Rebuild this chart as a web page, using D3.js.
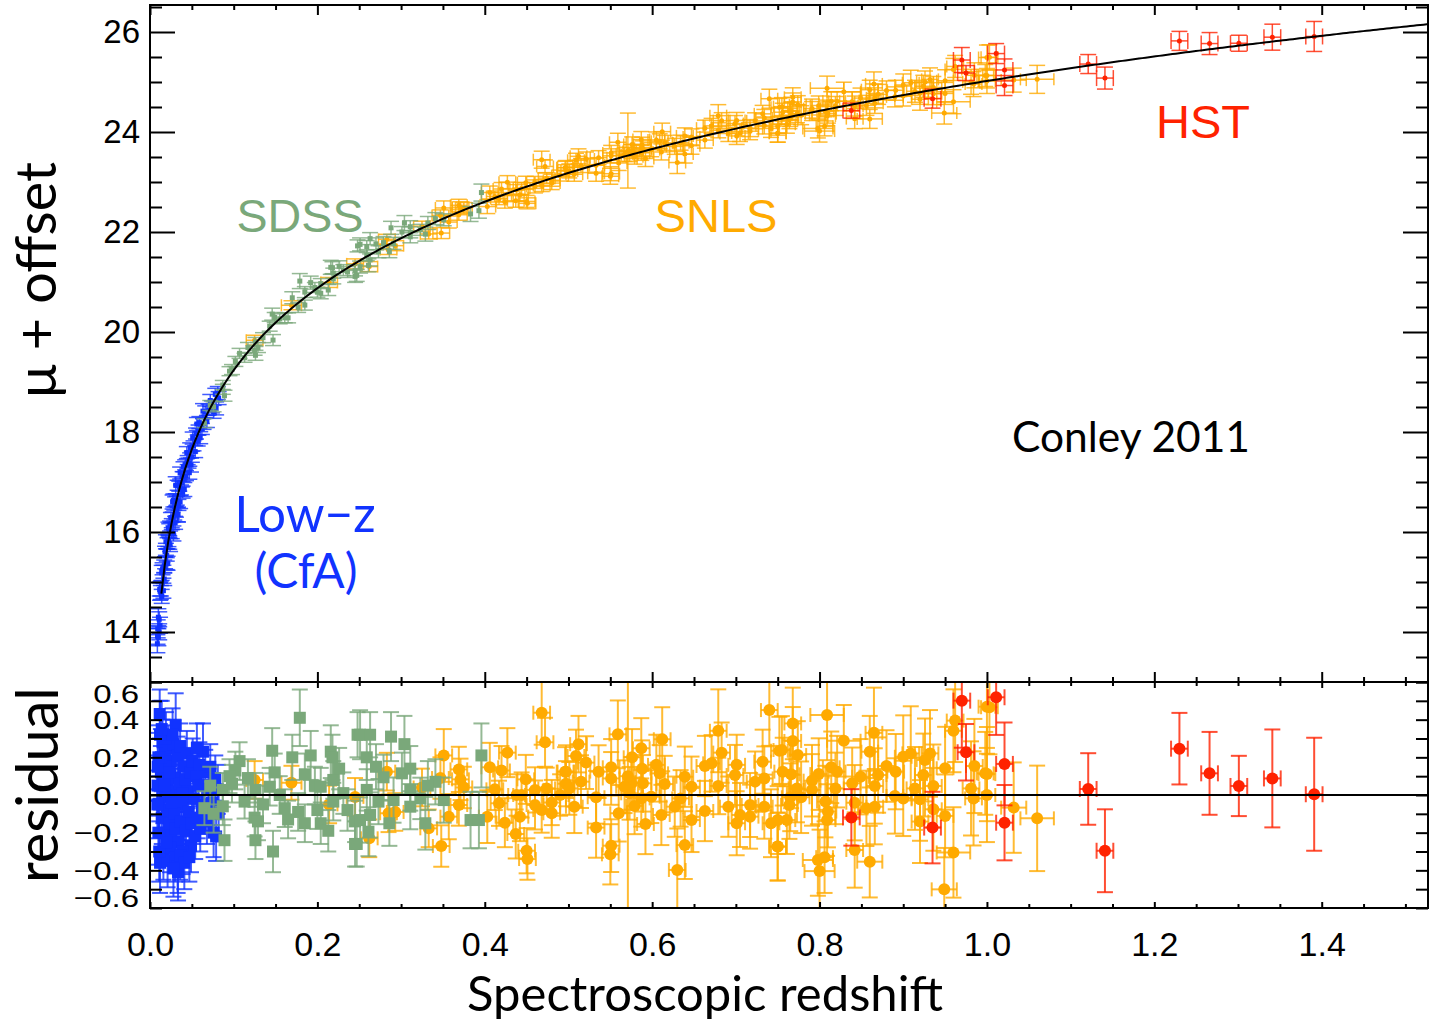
<!DOCTYPE html>
<html>
<head>
<meta charset="utf-8">
<script src="https://cdn.jsdelivr.net/npm/d3@7"></script>
<style>
body { margin: 0; background: #fff; }
</style>
</head>
<body>
<script>
// each point: [redshift, residual, sigma, sigma_z]
const lowzPoints = [
  [0.0116, 0.43, 0.13], [0.0307, 0.37, 0.17], [0.0633, 0.23, 0.15], [0.049, -0.27, 0.14],
  [0.0335, -0.41, 0.15], [0.012, -0.36, 0.16], [0.015, 0.28, 0.12], [0.018, 0.22, 0.11],
  [0.022, 0.25, 0.12], [0.025, 0.18, 0.10], [0.028, 0.27, 0.13], [0.033, 0.21, 0.10],
  [0.036, 0.26, 0.12], [0.040, 0.15, 0.10], [0.013, 0.12, 0.14], [0.016, 0.08, 0.13],
  [0.019, 0.15, 0.12], [0.021, 0.05, 0.11], [0.024, 0.10, 0.10], [0.027, 0.02, 0.10],
  [0.030, 0.09, 0.10], [0.032, -0.03, 0.09], [0.035, 0.06, 0.10], [0.038, -0.05, 0.09],
  [0.042, 0.08, 0.10], [0.045, 0.02, 0.09], [0.048, 0.12, 0.10], [0.052, -0.02, 0.10],
  [0.055, 0.10, 0.11], [0.058, 0.05, 0.10], [0.062, -0.08, 0.11], [0.066, 0.12, 0.12],
  [0.070, 0.03, 0.11], [0.074, -0.04, 0.12], [0.078, 0.09, 0.12], [0.082, -0.10, 0.13],
  [0.011, -0.05, 0.15], [0.014, -0.12, 0.14], [0.017, -0.20, 0.13], [0.020, -0.08, 0.12],
  [0.023, -0.15, 0.12], [0.026, -0.22, 0.11], [0.029, -0.10, 0.10], [0.031, -0.18, 0.11],
  [0.034, -0.25, 0.11], [0.037, -0.14, 0.10], [0.039, -0.30, 0.12], [0.043, -0.19, 0.10],
  [0.046, -0.09, 0.10], [0.050, -0.15, 0.11], [0.054, -0.22, 0.12], [0.057, -0.12, 0.11],
  [0.060, -0.18, 0.12], [0.064, -0.05, 0.11], [0.068, -0.14, 0.12], [0.072, 0.15, 0.12],
  [0.076, -0.20, 0.13], [0.013, 0.20, 0.15], [0.016, -0.30, 0.15], [0.019, 0.30, 0.14],
  [0.021, -0.35, 0.14], [0.024, -0.28, 0.13], [0.027, 0.32, 0.14], [0.030, -0.33, 0.13],
  [0.033, -0.38, 0.14], [0.036, -0.32, 0.13], [0.041, -0.36, 0.14], [0.044, 0.22, 0.12],
  [0.047, -0.33, 0.13], [0.051, 0.18, 0.12], [0.056, 0.25, 0.13], [0.059, 0.16, 0.12],
  [0.018, 0.00, 0.12], [0.022, -0.01, 0.11], [0.026, -0.04, 0.11], [0.039, 0.01, 0.10],
  [0.028, -0.39, 0.15], [0.012, 0.32, 0.18], [0.009, 0.05, 0.16], [0.010, -0.20, 0.17],
  [0.081, 0.03, 0.13], [0.079, -0.22, 0.13], [0.0088, -0.05, 0.18], [0.0092, 0.15, 0.18],
  [0.010, 0.20, 0.17], [0.011, -0.30, 0.16], [0.014, 0.35, 0.15], [0.017, 0.05, 0.13],
  [0.020, -0.25, 0.12], [0.023, 0.12, 0.12]
];

const sdssPoints = [
  [0.179, 0.41, 0.15], [0.248, 0.32, 0.12], [0.146, 0.235, 0.12], [0.192, 0.21, 0.13],
  [0.216, 0.23, 0.14], [0.218, 0.20, 0.12], [0.107, 0.18, 0.10], [0.102, 0.13, 0.10],
  [0.095, 0.10, 0.09], [0.117, 0.09, 0.10], [0.149, 0.12, 0.10], [0.185, 0.11, 0.11],
  [0.219, 0.08, 0.10], [0.197, 0.05, 0.10], [0.204, 0.044, 0.10], [0.231, 0.01, 0.11],
  [0.143, 0.044, 0.10], [0.126, 0.027, 0.09], [0.087, 0.027, 0.09], [0.113, -0.035, 0.09],
  [0.219, -0.035, 0.10], [0.065, -0.07, 0.09], [0.087, -0.06, 0.10], [0.161, -0.07, 0.10],
  [0.177, -0.09, 0.10], [0.125, -0.12, 0.10], [0.129, -0.14, 0.10], [0.165, -0.13, 0.10],
  [0.185, -0.15, 0.10], [0.204, -0.15, 0.11], [0.213, -0.19, 0.11], [0.245, -0.14, 0.11],
  [0.245, -0.26, 0.12], [0.089, -0.24, 0.11], [0.126, -0.24, 0.10], [0.147, -0.30, 0.11],
  [0.251, 0.32, 0.13], [0.263, 0.32, 0.12], [0.288, 0.31, 0.13], [0.304, 0.27, 0.15],
  [0.259, 0.20, 0.12], [0.279, 0.094, 0.12], [0.301, 0.115, 0.11], [0.311, 0.14, 0.12],
  [0.341, 0.07, 0.12], [0.396, 0.21, 0.17], [0.259, 0.027, 0.11], [0.311, 0.027, 0.11],
  [0.273, -0.035, 0.12], [0.291, -0.027, 0.12], [0.323, -0.018, 0.11], [0.351, -0.027, 0.12],
  [0.311, -0.062, 0.12], [0.251, -0.133, 0.12], [0.263, -0.106, 0.12], [0.261, -0.195, 0.13],
  [0.329, -0.15, 0.14], [0.247, -0.26, 0.12], [0.383, -0.133, 0.15], [0.393, -0.133, 0.15],
  [0.072, 0.05, 0.10], [0.076, -0.10, 0.10], [0.098, 0.06, 0.10], [0.135, -0.05, 0.10],
  [0.155, 0.00, 0.10], [0.170, 0.20, 0.12], [0.200, -0.08, 0.10], [0.226, 0.14, 0.11],
  [0.236, -0.08, 0.11], [0.270, 0.15, 0.12], [0.286, -0.15, 0.12], [0.332, 0.05, 0.13]
];

const snlsPoints = [
  [0.125, 0.08, 0.10, 0.010], [0.169, 0.065, 0.09, 0.012], [0.245, -0.01, 0.10, 0.010],
  [0.214, -0.05, 0.10, 0.010], [0.262, -0.23, 0.10, 0.010],
  [0.468, 0.437, 0.17], [0.472, 0.28, 0.13], [0.427, 0.225, 0.13], [0.351, 0.21, 0.14],
  [0.406, 0.147, 0.13], [0.420, 0.13, 0.13], [0.369, 0.136, 0.12], [0.371, 0.083, 0.11],
  [0.449, 0.083, 0.13], [0.496, 0.124, 0.13], [0.375, 0.04, 0.11], [0.412, 0.03, 0.11],
  [0.460, 0.027, 0.12], [0.474, 0.035, 0.11], [0.497, 0.06, 0.12], [0.438, 0.00, 0.11],
  [0.444, 0.00, 0.12], [0.490, 0.00, 0.11], [0.325, 0.04, 0.10], [0.283, 0.124, 0.10],
  [0.347, 0.09, 0.11], [0.369, -0.053, 0.11], [0.417, -0.044, 0.12], [0.460, -0.053, 0.13],
  [0.480, -0.04, 0.12], [0.285, -0.097, 0.10], [0.293, -0.09, 0.10], [0.357, -0.115, 0.12],
  [0.403, -0.115, 0.14], [0.442, -0.115, 0.13], [0.468, -0.08, 0.12], [0.480, -0.097, 0.13],
  [0.424, -0.147, 0.13], [0.333, -0.177, 0.10], [0.437, -0.207, 0.13], [0.348, -0.271, 0.11],
  [0.450, -0.296, 0.12], [0.451, -0.34, 0.11],
  [0.740, 0.451, 0.19], [0.559, 0.322, 0.18], [0.679, 0.341, 0.22], [0.612, 0.296, 0.17],
  [0.512, 0.27, 0.15], [0.509, 0.207, 0.14], [0.587, 0.248, 0.16], [0.683, 0.225, 0.16],
  [0.752, 0.235, 0.18], [0.521, 0.172, 0.14], [0.576, 0.20, 0.15], [0.605, 0.16, 0.16],
  [0.663, 0.154, 0.16], [0.671, 0.168, 0.15], [0.701, 0.16, 0.16], [0.732, 0.177, 0.17],
  [0.551, 0.147, 0.15], [0.536, 0.124, 0.14], [0.497, 0.124, 0.14], [0.588, 0.14, 0.15],
  [0.609, 0.115, 0.15], [0.551, 0.088, 0.14], [0.515, 0.071, 0.14], [0.639, 0.097, 0.16],
  [0.699, 0.106, 0.16], [0.734, 0.088, 0.17], [0.575, 0.062, 0.14], [0.589, 0.062, 0.15],
  [0.615, 0.058, 0.15], [0.647, 0.044, 0.16], [0.679, 0.048, 0.15], [0.723, 0.071, 0.16],
  [0.567, 0.044, 0.14], [0.501, 0.035, 0.14], [0.533, -0.012, 0.14], [0.573, 0.009, 0.14],
  [0.587, -0.018, 0.15], [0.599, -0.009, 0.14], [0.634, -0.018, 0.15], [0.507, -0.062, 0.14],
  [0.579, -0.058, 0.15], [0.627, -0.062, 0.16], [0.691, -0.062, 0.16], [0.717, -0.053, 0.17],
  [0.734, -0.062, 0.17], [0.560, -0.097, 0.15], [0.611, -0.106, 0.16], [0.663, -0.085, 0.16],
  [0.705, -0.106, 0.17], [0.717, -0.115, 0.17], [0.592, -0.154, 0.16], [0.647, -0.133, 0.17],
  [0.701, -0.15, 0.17], [0.742, -0.15, 0.18], [0.533, -0.173, 0.16], [0.639, -0.266, 0.18],
  [0.551, -0.269, 0.14], [0.550, -0.315, 0.16], [0.750, -0.274, 0.18], [0.630, -0.398, 0.22],
  [0.571, 0.10, 0.75],
  [0.809, 0.425, 0.24, 0.020], [0.768, 0.38, 0.19], [0.962, 0.395, 0.22], [0.960, 0.341, 0.22],
  [1.000, 0.469, 0.25], [0.768, 0.287, 0.18], [0.865, 0.33, 0.24], [0.829, 0.288, 0.19, 0.020],
  [0.755, 0.239, 0.18], [0.774, 0.212, 0.18], [0.860, 0.23, 0.19], [0.909, 0.221, 0.25],
  [0.900, 0.203, 0.22], [0.932, 0.221, 0.23], [0.926, 0.186, 0.22], [0.985, 0.154, 0.25],
  [0.950, 0.142, 0.22], [0.880, 0.154, 0.19], [0.891, 0.124, 0.20], [0.756, 0.124, 0.18],
  [0.766, 0.11, 0.18], [0.799, 0.111, 0.19], [0.814, 0.147, 0.19], [0.821, 0.124, 0.19],
  [0.791, 0.076, 0.19], [0.849, 0.097, 0.20], [0.870, 0.106, 0.20], [0.924, 0.106, 0.22],
  [0.998, 0.115, 0.22], [0.839, 0.062, 0.19], [0.866, 0.048, 0.20], [0.914, 0.035, 0.22],
  [0.936, 0.048, 0.22], [0.981, 0.035, 0.25], [0.819, 0.035, 0.19], [0.791, 0.027, 0.19],
  [0.773, 0.035, 0.18], [0.778, -0.012, 0.19], [0.765, -0.012, 0.18], [0.890, -0.005, 0.20],
  [0.900, -0.018, 0.20], [0.920, -0.023, 0.22], [0.984, -0.018, 0.25], [1.000, 0.00, 0.25],
  [0.807, -0.035, 0.19], [0.842, -0.041, 0.20], [0.764, -0.053, 0.18], [0.856, -0.071, 0.20],
  [0.866, -0.062, 0.20], [0.810, -0.088, 0.19], [0.936, -0.076, 0.22], [0.750, -0.133, 0.18],
  [0.761, -0.133, 0.18], [0.809, -0.133, 0.19], [0.920, -0.141, 0.22], [0.950, -0.111, 0.22],
  [0.750, -0.274, 0.18], [0.842, -0.292, 0.20], [0.960, -0.305, 0.24, 0.020],
  [0.798, -0.345, 0.19, 0.018], [0.806, -0.33, 0.19], [0.860, -0.354, 0.19, 0.015],
  [0.800, -0.404, 0.22, 0.018], [0.949, -0.501, 0.22, 0.015],
  [1.003, 0.466, 0.25], [1.000, 0.111, 0.25], [1.032, -0.067, 0.24, 0.015], [1.060, -0.124, 0.28, 0.020]
];

const hstPoints = [
  [0.838, -0.119, 0.15, 0.01], [0.935, -0.173, 0.19, 0.01], [0.970, 0.501, 0.25, 0.01],
  [0.975, 0.227, 0.15, 0.01], [1.011, 0.519, 0.20, 0.01], [1.021, 0.165, 0.22, 0.01],
  [1.021, -0.147, 0.20, 0.01], [1.121, 0.032, 0.19, 0.01], [1.141, -0.296, 0.22, 0.01],
  [1.230, 0.246, 0.19, 0.01], [1.266, 0.115, 0.22, 0.01], [1.301, 0.048, 0.16, 0.01],
  [1.341, 0.088, 0.26, 0.01], [1.391, 0.004, 0.30, 0.01]
];

const xTickValues = [0, 0.2, 0.4, 0.6, 0.8, 1.0, 1.2, 1.4];
const muTickValues = [14, 16, 18, 20, 22, 24, 26];
const resTickLabels = [0.6, 0.4, 0.2, 0.0, -0.2, -0.4, -0.6];

// flat LCDM fit curve, distance modulus plus absolute-magnitude offset
const omegaM = 0.3, hubbleDist = 299792.458 / 70, muOffset = -19.08;
function muModel(z) {
  const n = 200;
  let s = 0;
  for (let i = 0; i <= n; i++) {
    const zi = z * i / n;
    const f = 1 / Math.sqrt(omegaM * Math.pow(1 + zi, 3) + 1 - omegaM);
    s += (i === 0 || i === n) ? f / 2 : f;
  }
  const dl = (1 + z) * hubbleDist * s * z / n;
  return 5 * Math.log10(dl) + 25 + muOffset;
}

const W = 1435, H = 1020;
const pL = 150, pR = 1428, pT = 5, pM = 682, pB = 908;

const svg = d3.select("body").append("svg").attr("width", W).attr("height", H);

const x = d3.scaleLinear().domain([0, 1.527]).range([pL, pR]);
const yTop = d3.scaleLinear().domain([13, 26.54]).range([pM, pT]);
const yRes = d3.scaleLinear().domain([-0.6, 0.6]).range([pB, pM]);

const defs = svg.append("defs");
defs.append("clipPath").attr("id", "clipTop").append("rect")
  .attr("x", pL).attr("y", pT).attr("width", pR - pL).attr("height", pM - pT);
defs.append("clipPath").attr("id", "clipRes").append("rect")
  .attr("x", pL).attr("y", pM).attr("width", pR - pL).attr("height", pB - pM);

const gTop = svg.append("g").attr("clip-path", "url(#clipTop)");
const gRes = svg.append("g").attr("clip-path", "url(#clipRes)");

// zErr: redshift error used where a point has none of its own
const surveys = [
  { pts: lowzPoints, color: "#1133ff", shape: "square", zErr: 0 },
  { pts: snlsPoints, color: "#ffaa00", shape: "circle", zErr: 0.01 },
  { pts: sdssPoints, color: "#7aa87a", shape: "square", zErr: 0 },
  { pts: hstPoints, color: "#ff2200", shape: "circle", zErr: 0 }
];

function drawSet(g, s, y, val, size, cap, hcap, sw) {
  const grp = g.append("g");
  const bars = grp.append("g").attr("stroke", s.color).attr("stroke-width", sw).attr("stroke-opacity", 0.8);
  s.pts.forEach(p => {
    const z = p[0], v = val(p), e = p[2], ze = p[3] || s.zErr;
    const cx = x(z), y0 = y(v - e), y1 = y(v + e);
    bars.append("line").attr("x1", cx).attr("x2", cx).attr("y1", y0).attr("y2", y1);
    bars.append("line").attr("x1", cx - cap).attr("x2", cx + cap).attr("y1", y0).attr("y2", y0);
    bars.append("line").attr("x1", cx - cap).attr("x2", cx + cap).attr("y1", y1).attr("y2", y1);
    if (ze > 0) {
      const cy = y(v), xa = x(z - ze), xb = x(z + ze);
      const hc = s.pts === hstPoints ? cap : hcap;
      bars.append("line").attr("x1", xa).attr("x2", xb).attr("y1", cy).attr("y2", cy);
      bars.append("line").attr("x1", xa).attr("x2", xa).attr("y1", cy - hc).attr("y2", cy + hc);
      bars.append("line").attr("x1", xb).attr("x2", xb).attr("y1", cy - hc).attr("y2", cy + hc);
    }
  });
  if (s.shape === "square") {
    grp.selectAll("rect").data(s.pts).join("rect")
      .attr("x", d => x(d[0]) - size / 2).attr("y", d => y(val(d)) - size / 2)
      .attr("width", size).attr("height", size).attr("fill", s.color);
  } else {
    grp.selectAll("circle").data(s.pts).join("circle")
      .attr("cx", d => x(d[0])).attr("cy", d => y(val(d))).attr("r", size / 2).attr("fill", s.color);
  }
}

// top panel: mu + offset = model + residual
surveys.forEach(s => drawSet(gTop, s, yTop, d => muModel(d[0]) + d[1], 5, 8, 6, 1.5));

const curveZ = d3.range(0.0136, 1.53, 0.004);
gTop.append("path")
  .datum(curveZ)
  .attr("fill", "none").attr("stroke", "#000").attr("stroke-width", 2)
  .attr("d", d3.line().x(z => x(z)).y(z => yTop(muModel(z))));

// residual panel
surveys.forEach(s => drawSet(gRes, s, yRes, d => d[1], 12, 8, 7, 2));
gRes.append("line").attr("x1", pL).attr("x2", pR)
  .attr("y1", yRes(0)).attr("y2", yRes(0)).attr("stroke", "#000").attr("stroke-width", 2);

// axes
function styleAxis(g) {
  g.select(".domain").remove();
  g.selectAll("line").attr("stroke", "#000").attr("stroke-width", 2);
  g.selectAll("text").attr("font-family", "'Liberation Sans', Arial, sans-serif").attr("fill", "#000");
}
const xMinor = d3.range(0, 1.53, 0.05).filter(v => Math.abs(v / 0.2 - Math.round(v / 0.2)) > 1e-6);
const muMinor = d3.range(13, 26.6, 0.5).filter(v => v % 2 !== 0);
const resMinor = d3.range(-0.6, 0.61, 0.1);

// top panel ticks
svg.append("g").attr("transform", `translate(${pL},0)`)
  .call(d3.axisLeft(yTop).tickValues(muTickValues).tickSize(-25).tickPadding(10).tickFormat(d3.format("d")))
  .call(styleAxis).call(g => g.selectAll("text").attr("font-size", 33));
svg.append("g").attr("transform", `translate(${pL},0)`)
  .call(d3.axisLeft(yTop).tickValues(muMinor).tickSize(-12).tickFormat("")).call(styleAxis);
svg.append("g").attr("transform", `translate(${pR},0)`)
  .call(d3.axisRight(yTop).tickValues(muTickValues).tickSize(-25).tickFormat("")).call(styleAxis);
svg.append("g").attr("transform", `translate(${pR},0)`)
  .call(d3.axisRight(yTop).tickValues(muMinor).tickSize(-12).tickFormat("")).call(styleAxis);
svg.append("g").attr("transform", `translate(0,${pT})`)
  .call(d3.axisTop(x).tickValues(xTickValues).tickSize(-10).tickFormat("")).call(styleAxis);
svg.append("g").attr("transform", `translate(0,${pT})`)
  .call(d3.axisTop(x).tickValues(xMinor).tickSize(-5).tickFormat("")).call(styleAxis);
svg.append("g").attr("transform", `translate(0,${pM})`)
  .call(d3.axisBottom(x).tickValues(xTickValues).tickSize(-10).tickFormat("")).call(styleAxis);
svg.append("g").attr("transform", `translate(0,${pM})`)
  .call(d3.axisBottom(x).tickValues(xMinor).tickSize(-5).tickFormat("")).call(styleAxis);

// residual panel ticks
svg.append("g").attr("transform", `translate(${pL},0)`)
  .call(d3.axisLeft(yRes).tickValues(resMinor).tickSize(-12).tickFormat("")).call(styleAxis);
svg.append("g").attr("transform", `translate(${pR},0)`)
  .call(d3.axisRight(yRes).tickValues(resMinor).tickSize(-12).tickFormat("")).call(styleAxis);
svg.append("g").attr("transform", `translate(0,${pM})`)
  .call(d3.axisTop(x).tickValues(xTickValues).tickSize(-6).tickFormat("")).call(styleAxis);
svg.append("g").attr("transform", `translate(0,${pM})`)
  .call(d3.axisTop(x).tickValues(xMinor).tickSize(-4).tickFormat("")).call(styleAxis);
svg.append("g").attr("transform", `translate(0,${pB})`)
  .call(d3.axisBottom(x).tickValues(xTickValues).tickSize(-6).tickPadding(24).tickFormat(d3.format(".1f")))
  .call(styleAxis).call(g => g.selectAll("text").attr("font-size", 34));
svg.append("g").attr("transform", `translate(0,${pB})`)
  .call(d3.axisBottom(x).tickValues(xMinor).tickSize(-4).tickFormat("")).call(styleAxis);

// residual tick labels (squeezed, end ones pulled inside the panel)
const resFmt = d3.format(".1f");
svg.append("g").selectAll("text").data(resTickLabels).join("text")
  .attr("transform", d => {
    let yy = yRes(d);
    if (d === 0.6) yy += 11;
    if (d === -0.6) yy -= 11;
    return `translate(139,${yy}) scale(1,0.8)`;
  })
  .attr("dy", "0.36em").attr("text-anchor", "end")
  .attr("font-family", "'Liberation Sans', Arial, sans-serif").attr("font-size", 33)
  .text(d => resFmt(d));

// frame
svg.append("rect").attr("x", pL).attr("y", pT).attr("width", pR - pL).attr("height", pB - pT)
  .attr("fill", "none").attr("stroke", "#000").attr("stroke-width", 2);
svg.append("line").attr("x1", pL).attr("x2", pR).attr("y1", pM).attr("y2", pM)
  .attr("stroke", "#000").attr("stroke-width", 2);

// labels
function label(txt, cx, cy, w, color, family, rotate) {
  const t = svg.append("text").text(txt).attr("fill", color)
    .attr("font-family", family).attr("font-size", 40).attr("text-anchor", "middle");
  const len = t.node().getComputedTextLength();
  t.attr("font-size", 40 * w / len);
  if (rotate) t.attr("transform", `translate(${cx},${cy}) rotate(-90)`);
  else t.attr("x", cx).attr("y", cy);
  return t;
}
const helv = "'Liberation Sans', Arial, sans-serif";
const cal = "Lato, 'Open Sans', sans-serif";
label("SDSS", 300, 232, 127, "#7aa87a", helv);
label("SNLS", 716, 232, 123, "#ffaa00", helv);
label("HST", 1203, 138, 94, "#ff2200", helv);
label("Low\u2212z", 305, 532, 141, "#1133ff", cal);
label("(CfA)", 306, 588, 103, "#1133ff", cal);
label("Conley 2011", 1131, 452, 238, "#000", cal);
label("Spectroscopic redshift", 705, 1011, 476, "#000", cal);
label("\u03bc + offset", 56, 280, 236, "#000", cal, true);
label("residual", 58, 785, 196, "#000", cal, true);
</script>
</body>
</html>
